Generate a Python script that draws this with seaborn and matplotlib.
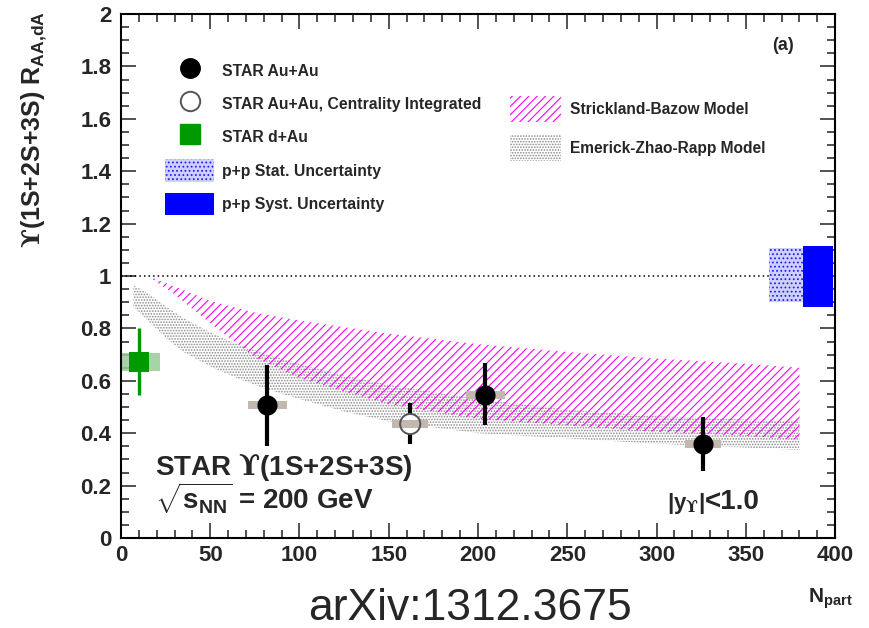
import matplotlib
matplotlib.use("Agg")
import matplotlib.pyplot as plt
from matplotlib.ticker import MultipleLocator, FuncFormatter
from matplotlib.patches import Patch
from matplotlib.lines import Line2D
from matplotlib import font_manager
import seaborn as sns

# STAR Au+Au centrality bins
auau_npart = [82, 204, 326]
auau_npart_err = [11, 11, 10]
auau_raa = [0.508, 0.546, 0.359]
auau_stat_lo = [0.158, 0.116, 0.104]
auau_stat_hi = [0.152, 0.122, 0.103]
auau_syst = [0.014, 0.014, 0.014]

# STAR Au+Au centrality integrated
int_npart = [162]
int_npart_err = [10]
int_raa = [0.435]
int_stat_lo = [0.076]
int_stat_hi = [0.080]
int_syst = [0.014]

# STAR d+Au
dau_npart = [10]
dau_npart_err = [12]
dau_raa = [0.673]
dau_stat_lo = [0.127]
dau_stat_hi = [0.127]
dau_syst = [0.035]

# p+p normalisation uncertainty boxes (Npart range, lower, upper)
pp_stat_npart = [363, 382]
pp_stat_band = [0.90, 1.107]
pp_syst_npart = [382, 399]
pp_syst_band = [0.88, 1.115]

# model bands
sb_npart = [15, 30, 50, 75, 100, 150, 200, 250, 300, 350, 380]
sb_hi = [1.0, 0.96, 0.905, 0.86, 0.83, 0.78, 0.74, 0.71, 0.685, 0.665, 0.65]
sb_lo = [1.0, 0.93, 0.82, 0.69, 0.61, 0.51, 0.455, 0.43, 0.405, 0.39, 0.375]

ezr_npart = [7, 15, 25, 35, 50, 65, 80, 100, 125, 150, 200, 250, 300, 350, 380]
ezr_hi = [0.965, 0.935, 0.885, 0.84, 0.785, 0.74, 0.705, 0.665, 0.62, 0.585, 0.53,
          0.49, 0.465, 0.452, 0.45]
ezr_lo = [0.883, 0.83, 0.765, 0.71, 0.655, 0.61, 0.572, 0.53, 0.483, 0.445, 0.40,
          0.38, 0.36, 0.345, 0.336]

sns.set_theme(style="ticks")
plt.rcParams["font.family"] = ["Liberation Sans", "DejaVu Sans"]
plt.rcParams["font.weight"] = "bold"
plt.rcParams["mathtext.fontset"] = "custom"
plt.rcParams["mathtext.rm"] = "DejaVu Serif"
plt.rcParams["mathtext.bf"] = "Liberation Sans:bold"
plt.rcParams["mathtext.sf"] = "Liberation Sans"
plt.rcParams["hatch.linewidth"] = 0.8

names = {f.name for f in font_manager.fontManager.ttflist}
narrow = "Liberation Sans Narrow" if "Liberation Sans Narrow" in names else "Liberation Sans"

fig = plt.figure(figsize=(8.7, 6.28), dpi=100)
ax = fig.add_axes([0.139, 0.1433, 0.821, 0.8344])

# model bands
ax.fill_between(ezr_npart, ezr_lo, ezr_hi, facecolor="none", edgecolor="#8a8a8a",
                hatch="......", linewidth=0, zorder=1)
ax.fill_between(sb_npart, sb_lo, sb_hi, facecolor="none", edgecolor="#ff00ff",
                hatch="////", linewidth=0, zorder=1.2)

ax.axhline(1.0, color="black", ls=(0, (1, 2)), lw=1.1, zorder=1.5)

# p+p boxes
ax.bar(sum(pp_stat_npart) / 2, pp_stat_band[1] - pp_stat_band[0], bottom=pp_stat_band[0],
       width=pp_stat_npart[1] - pp_stat_npart[0], facecolor="#d0d0ff", edgecolor="#2020ff",
       hatch="....", linewidth=0, zorder=2)
ax.bar(sum(pp_syst_npart) / 2, pp_syst_band[1] - pp_syst_band[0], bottom=pp_syst_band[0],
       width=pp_syst_npart[1] - pp_syst_npart[0], color="#0000ff", linewidth=0, zorder=2.5)

# d+Au
ax.bar(dau_npart, [2 * s for s in dau_syst], bottom=[r - s for r, s in zip(dau_raa, dau_syst)],
       width=[2 * e for e in dau_npart_err], color="#99cc99", alpha=0.85, linewidth=0, zorder=2)
ax.errorbar(dau_npart, dau_raa, yerr=[dau_stat_lo, dau_stat_hi], fmt="none",
            ecolor="#009900", elinewidth=2.4, capsize=0, zorder=3)
sns.scatterplot(x=dau_npart, y=dau_raa, ax=ax, marker="s", s=200, color="#009900",
                edgecolor="#009900", linewidth=0, zorder=4, legend=False)

# Au+Au bins
ax.bar(auau_npart, [2 * s for s in auau_syst], bottom=[r - s for r, s in zip(auau_raa, auau_syst)],
       width=[2 * e for e in auau_npart_err], color="#c2b8ae", linewidth=0, zorder=2)
ax.errorbar(auau_npart, auau_raa, yerr=[auau_stat_lo, auau_stat_hi], fmt="none",
            ecolor="black", elinewidth=3, capsize=0, zorder=3)
sns.scatterplot(x=auau_npart, y=auau_raa, ax=ax, marker="o", s=210, color="black",
                edgecolor="black", linewidth=0, zorder=4, legend=False)

# centrality integrated
ax.errorbar(int_npart, int_raa, yerr=[int_stat_lo, int_stat_hi], fmt="none",
            ecolor="black", elinewidth=3, capsize=0, zorder=3)
sns.scatterplot(x=int_npart, y=int_raa, ax=ax, marker="o", s=210, color="white",
                edgecolor="none", zorder=4, legend=False)
ax.bar(int_npart, [2 * s for s in int_syst], bottom=[r - s for r, s in zip(int_raa, int_syst)],
       width=[2 * e for e in int_npart_err], color="#c2b8ae", linewidth=0, zorder=4.5)
sns.scatterplot(x=int_npart, y=int_raa, ax=ax, marker="o", s=210, facecolor="none",
                edgecolor="#555555", linewidth=1.4, zorder=5, legend=False)

# axes styling (ROOT look)
ax.set_xlim(0, 400)
ax.set_ylim(0, 2)
ax.xaxis.set_major_locator(MultipleLocator(50))
ax.xaxis.set_minor_locator(MultipleLocator(10))
ax.yaxis.set_major_locator(MultipleLocator(0.2))
ax.yaxis.set_minor_locator(MultipleLocator(0.05))
ax.yaxis.set_major_formatter(FuncFormatter(lambda v, p: f"{v:g}"))
ax.tick_params(which="both", direction="in", top=True, right=True, color="#333333", width=1.2)
ax.tick_params(which="major", length=11)
ax.tick_params(which="minor", length=6)
ax.tick_params(axis="y", pad=7)
ax.tick_params(axis="x", pad=5)
for lab in ax.get_yticklabels():
    lab.set_fontsize(16)
    lab.set_fontweight("bold")
for lab in ax.get_xticklabels():
    lab.set_fontsize(16)
    lab.set_fontweight("bold")
    lab.set_family(narrow)
for sp in ax.spines.values():
    sp.set_linewidth(1.5)
    sp.set_color("black")
ax.set_xlabel("")
ax.set_ylabel("")

# legends
left_handles = [
    Line2D([], [], marker="o", ls="", color="black", markersize=14),
    Line2D([], [], marker="o", ls="", markerfacecolor="white", markeredgecolor="#555555",
           markeredgewidth=1.4, markersize=14),
    Line2D([], [], marker="s", ls="", color="#009900", markersize=14),
    Patch(facecolor="#d0d0ff", edgecolor="#2020ff", hatch="....", linewidth=0),
    Patch(facecolor="#0000ff", linewidth=0),
]
left_labels = ["STAR Au+Au", "STAR Au+Au, Centrality Integrated", "STAR d+Au",
               "p+p Stat. Uncertainty", "p+p Syst. Uncertainty"]
leg1 = ax.legend(left_handles, left_labels, loc="upper left", bbox_to_anchor=(0.062, 0.913),
                 frameon=False, prop={"weight": "bold", "size": 11.3}, handlelength=3.1,
                 handleheight=1.85, handletextpad=0.55, labelspacing=0.67, borderpad=0,
                 borderaxespad=0)
ax.add_artist(leg1)

right_handles = [
    Patch(facecolor="none", edgecolor="#ff00ff", hatch="////", linewidth=0),
    Patch(facecolor="none", edgecolor="#8a8a8a", hatch="......", linewidth=0),
]
right_labels = ["Strickland-Bazow Model", "Emerick-Zhao-Rapp Model"]
ax.legend(right_handles, right_labels, loc="upper left", bbox_to_anchor=(0.545, 0.843),
          frameon=False, prop={"weight": "bold", "size": 11.2}, handlelength=3.25,
          handleheight=2.2, handletextpad=0.6, labelspacing=0.82, borderpad=0,
          borderaxespad=0)

# texts
fig.text(0.040, 0.982, r"$\mathrm{ϒ}$(1S+2S+3S) R$_{\mathbf{AA{,}dA}}$", rotation=90,
         ha="center", va="top", fontsize=18, fontweight="bold")
ax.text(0.047, 0.120, r"STAR $\mathrm{ϒ}$(1S+2S+3S)", transform=ax.transAxes,
        fontsize=20, fontweight="bold", va="baseline")
ax.text(0.047, 0.055, r"$\sqrt{\mathbf{s}_{\mathbf{NN}}}$ = 200 GeV", transform=ax.transAxes,
        fontsize=20, fontweight="bold", va="baseline")
ax.text(0.818, 0.055, r"|y$_{\mathrm{ϒ}}$|", transform=ax.transAxes,
        fontsize=16, fontweight="bold", va="baseline", ha="right")
ax.text(0.818, 0.055, "<1.0", transform=ax.transAxes,
        fontsize=20, fontweight="bold", va="baseline", ha="left")
ax.text(0.912, 0.931, "(a)", transform=ax.transAxes, fontsize=13, fontweight="bold",
        va="baseline")
fig.text(0.929, 0.040, r"N$_{\mathbf{part}}$", fontsize=15, fontweight="bold", va="baseline")
fig.text(0.540, 0.012, "arXiv:1312.3675", fontsize=32, fontweight="normal",
         ha="center", va="baseline")

fig.savefig("out.png", dpi=100)
